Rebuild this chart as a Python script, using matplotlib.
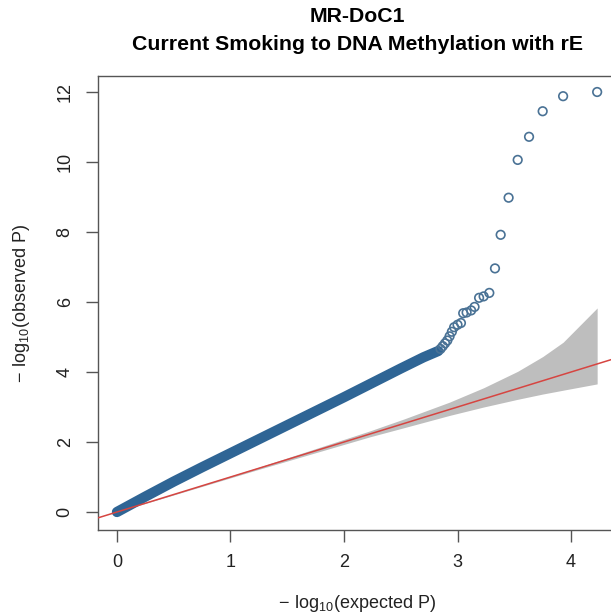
import matplotlib
matplotlib.use("Agg")
import matplotlib.pyplot as plt

plt.rcParams['font.family'] = ['Liberation Sans', 'DejaVu Sans']
plt.rcParams['mathtext.fontset'] = 'custom'
plt.rcParams['mathtext.rm'] = 'Liberation Sans'

# dense part of the QQ curve: -log10(expected P) vs -log10(observed P)
body_expected = [0.0, 0.25, 0.5, 0.75, 1.0, 1.25, 1.5, 1.75, 2.0, 2.25, 2.5, 2.7, 2.83]
body_observed = [0.0, 0.44, 0.87, 1.28, 1.68, 2.08, 2.48, 2.88, 3.28, 3.69, 4.10, 4.42, 4.60]

# the top-ranked CpGs, drawn one by one
tail_expected = [4.23, 3.93, 3.75, 3.63, 3.53, 3.45, 3.38, 3.33, 3.28, 3.23,
                 3.19, 3.15, 3.12, 3.08, 3.05, 3.03, 3.00, 2.97, 2.95, 2.93,
                 2.91, 2.89, 2.87, 2.85]
tail_observed = [12.0, 11.88, 11.45, 10.72, 10.06, 8.98, 7.92, 6.96, 6.26, 6.16,
                 6.12, 5.86, 5.76, 5.70, 5.68, 5.40, 5.35, 5.28, 5.15, 5.02,
                 4.90, 4.82, 4.74, 4.66]

# 95% band under the null
ci_expected = [0.0, 1.23, 2.23, 2.53, 2.93, 3.23, 3.53, 3.75, 3.93, 4.23]
ci_upper = [0.01, 1.26, 2.32, 2.66, 3.14, 3.55, 4.02, 4.44, 4.85, 5.83]
ci_lower = [0.0, 1.20, 2.15, 2.41, 2.76, 3.00, 3.22, 3.37, 3.48, 3.66]

xticks = [0, 1, 2, 3, 4]
yticks = [0, 2, 4, 6, 8, 10, 12]

W, H = 611, 615
fig = plt.figure(figsize=(W / 100, H / 100), dpi=100)
# plot box runs a little past the right edge of the figure
left, right, top, bottom = 98, 616, 76, 530
ax = fig.add_axes([left / W, 1 - bottom / H, (right - left) / W, (bottom - top) / H])

point_col = '#4a7295'
ax.fill_between(ci_expected, ci_lower, ci_upper, color='#bebebe', lw=0, zorder=1)
ax.plot(body_expected, body_observed, color='#2f6595', lw=7.4,
        solid_capstyle='round', zorder=2)
ax.scatter(tail_expected, tail_observed, s=38, facecolors='none',
           edgecolors=point_col, linewidths=1.2, zorder=3)
ax.axline((0, 0), (1, 1), color='#d64541', lw=1.1, zorder=4)

ax.set_xlim(-0.167, 4.396)
ax.set_ylim(-0.514, 12.457)
ax.set_xticks(xticks)
ax.set_yticks(yticks)
ax.set_xticklabels([str(t) for t in xticks])
ax.set_yticklabels([str(t) for t in yticks], rotation=90, va='center', ha='right')
ax.tick_params(length=8.5, width=1.0, color='#555555', pad=9,
               labelsize=13, labelcolor='#222222')
for s in ax.spines.values():
    s.set_color('#555555')
    s.set_linewidth(1.0)

cx = (left + right) / 2 / W
fig.text(cx, 1 - 17 / H, 'MR-DoC1', ha='center', va='center',
         fontsize=15.3, fontweight='bold')
fig.text(cx, 1 - 45 / H, 'Current Smoking to DNA Methylation with rE',
         ha='center', va='center', fontsize=15.3, fontweight='bold')
fig.text(cx, 1 - 603 / H, r'$\mathregular{-\ log_{10}(expected\ P)}$',
         ha='center', va='center', fontsize=13, color='#222222')
fig.text(22 / W, 1 - 303 / H, r'$\mathregular{-\ log_{10}(observed\ P)}$',
         ha='center', va='center', rotation=90, fontsize=13, color='#222222')

fig.savefig('out.png', dpi=100)
